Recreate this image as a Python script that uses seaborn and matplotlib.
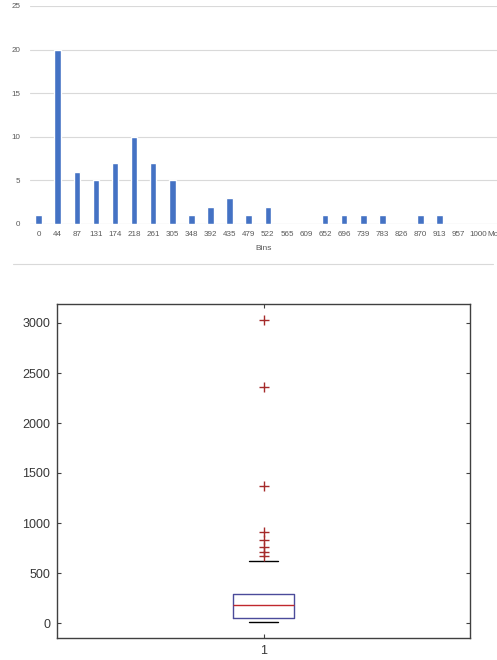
import matplotlib
matplotlib.use("Agg")
import matplotlib.pyplot as plt
from matplotlib.lines import Line2D
import pandas as pd
import seaborn as sns

# histogram (Excel style) values
bins = ["0", "44", "87", "131", "174", "218", "261", "305", "348", "392", "435", "479",
        "522", "565", "609", "652", "696", "739", "783", "826", "870", "913", "957", "1000", "More"]
counts = [1, 20, 6, 5, 7, 10, 7, 5, 1, 2, 3, 1, 2, 0, 0, 1, 1, 1, 1, 0, 1, 1, 0, 0, 0]

# boxplot (MATLAB style) statistics
box_q1 = 47
box_med = 180
box_q3 = 287
whisker_lo = 7
whisker_hi = 619
outliers = [3035, 2365, 1370, 906, 829, 759, 709, 669]

sns.set_style("white")
plt.rcParams["font.family"] = ["Liberation Sans", "DejaVu Sans"]

fig = plt.figure(figsize=(4.97, 6.6), dpi=100)
W, H = 497, 660

# ---- top: histogram ----
ax1 = fig.add_axes([30 / W, 1 - 224 / H, (497 - 30) / W, (224 - 6) / H])
hist_df = pd.DataFrame({"Bins": bins, "Frequency": counts})
sns.barplot(data=hist_df, x="Bins", y="Frequency", order=bins, color="#4472C4",
            width=0.34, saturation=1, ax=ax1)
ax1.set_xlim(-0.45, 24.0)
ax1.set_ylim(0, 25)
ax1.set_yticks(range(0, 26, 5))
ax1.grid(axis="y", color="#d9d9d9", linewidth=0.8)
ax1.set_axisbelow(True)
for s in ax1.spines.values():
    s.set_visible(False)
ax1.axhline(0, color="#d9d9d9", linewidth=0.8, zorder=0)
ax1.tick_params(axis="both", length=0, labelsize=5.8, labelcolor="#595959")
ax1.tick_params(axis="y", pad=7)
ax1.tick_params(axis="x", pad=5)
ax1.set_ylabel("")
ax1.set_xlabel("Bins", fontsize=6, color="#595959")
ax1.xaxis.set_label_coords(0.5, -0.095)

# chart border line between panels
fig.add_artist(Line2D([13 / W, 493 / W], [1 - 264 / H, 1 - 264 / H],
                      color="#d9d9d9", linewidth=0.8))

# ---- bottom: boxplot ----
ax2 = fig.add_axes([57.3 / W, 1 - 638.3 / H, (470.3 - 57.3) / W, (638.3 - 304) / H])
stats = [{"q1": box_q1, "med": box_med, "q3": box_q3,
          "whislo": whisker_lo, "whishi": whisker_hi, "fliers": outliers}]
ax2.bxp(stats, positions=[1], widths=0.148, showfliers=True,
        boxprops=dict(color="#4b4b9a", linewidth=1.0),
        medianprops=dict(color="#c0282d", linewidth=1.0),
        whiskerprops=dict(color="#4b4b9a", linewidth=0.0),
        capprops=dict(color="black", linewidth=1.0),
        capwidths=0.07,
        flierprops=dict(marker="+", markeredgecolor="#a52a2a", markersize=6.5,
                        markeredgewidth=1.0, linestyle="none"))
ax2.set_xlim(0.5, 1.5)
ax2.set_ylim(-153, 3190)
ax2.set_yticks(range(0, 3001, 500))
ax2.set_xticks([1])
ax2.set_xticklabels(["1"])
for s in ax2.spines.values():
    s.set_visible(True)
    s.set_color("#404040")
    s.set_linewidth(1.0)
ax2.tick_params(axis="both", direction="in", length=3, width=0.8, color="#404040",
                labelsize=9, labelcolor="#383838", left=True, right=True,
                top=True, bottom=True)
ax2.tick_params(axis="y", pad=5)
ax2.tick_params(axis="x", pad=5)

fig.savefig("out.png", dpi=100)
